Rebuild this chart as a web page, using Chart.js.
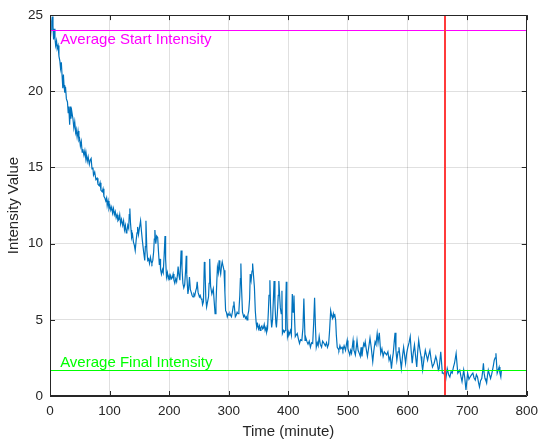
<!DOCTYPE html>
<html>
<head>
<meta charset="utf-8">
<script src="https://cdn.jsdelivr.net/npm/chart.js@4/dist/chart.umd.min.js"></script>
<style>
html,body{margin:0;padding:0;background:#fff;}
#wrap{width:545px;height:441px;position:relative;}
</style>
</head>
<body>
<div id="wrap"><canvas id="c" width="545" height="441"></canvas></div>
<script>
// ---- data ----
const timeMin = [0,1.7,3,3.8,5,6,7,8.3,9.5,11,12,13.5,15,16.5,17.7,19,20.3,21.5,22.5,23.5,24.8,26,27.5,29.3,30.5,31.5,33,34,35,36.5,38.5,40,41.5,43,44,45.5,47,48.5,49.6,51,52.5,54,55,57,58.5,60,60.7,62.5,64,66,67.5,69,70.5,72,73,75,77,79,80.5,82.6,84,85.5,87.6,89,90.5,92,93.5,95,96,97.5,99,100.5,102,103.5,105,106.5,108,109.5,111,112.5,114,115.7,117,118.5,120,122,123.5,125,126.5,128,129,130.5,132,133,134,135,136,137,138.5,140,141.5,143,144.5,146,147,148.5,150,152,153.5,155,157,159,160,161,162.5,164,165.5,167,168.5,170,171,172.5,174,175,176,177.5,179,180.7,182,183.5,184.6,185.5,187,188.5,190,191.5,193,194,195.5,197,198.5,200,201,202.5,204,205.5,206.6,208,209.4,211,212.5,214,215,216.5,218,219,220,221.5,223,224.5,226,227.5,228.6,229.5,231.4,232.5,234,235.5,237,238.5,240,241.5,243,244.5,246,247,248.5,250.7,252,253.5,255,256,257.5,259,260,261.5,262.8,264,266,267,268,269.5,271.6,273,274,275.5,277,278.5,280,281,282.5,283.8,285,286.4,288,289,290.5,292,293.5,294.7,296,297.5,299,300.5,302,303,304.5,306,307.5,308.6,310,311,312.5,314,315.5,317,318.5,319.5,320.3,321.5,323,325,326.5,328,329.5,330.6,332,333.5,335,336,337.5,339,340,341.5,343,344.5,346,347,348.5,350,351.5,352.6,354,355.5,357,358,359.5,361,362.5,363.6,365,366.5,367.5,369,370,371,372,373.5,375,376,377.5,379,380,381.5,383,384,385.5,386.5,388,389.2,390,392,393.5,394.5,395.5,396.5,397.5,398.5,400,401,402,403.5,405,406.6,408,409.4,410.5,411.6,413,414.9,416.5,418.7,420.5,422.6,424.5,426,427,428,429.5,431.4,433,435,437,439,440.8,442.5,444,445.5,446.8,448.5,450,451.7,453.5,455.7,457.5,460,462,464,465.6,467.5,469,471,472.5,474,475.5,476.5,478,479.3,480.5,482,483.5,484.8,486.5,488,490,491.5,493.5,495.9,497.5,498.7,500,501.5,503,504.5,506,507.5,508.6,510,511,512.4,514,515.2,517,519,520.7,522,523.5,525,526.5,528,529,531,532.7,534.5,537,539,541.6,543.5,545.5,547,549,550.5,552.6,555,557,559,561,563,564.8,567,569,571,573,574.5,576,577.5,579,580.5,582,584,585.6,587.5,589.6,591.5,593.4,595,596.7,598.5,600.5,602.5,604.5,606,607.8,609.5,611.6,613.5,615.4,617,618.7,620.5,622.6,624,625.3,627.5,629.8,631.5,633.6,635.5,637.5,639.5,641.8,644.6,647.4,649,651.7,653,655.7,658.4,661,664,666.6,669,671,673,674.9,677,678.8,681.5,684.3,687.6,689.5,691.4,694.2,696,698,700.8,703,705,707.5,709.6,711.5,713.6,715.5,717.4,719,720.7,722.5,724.5,726,727.3,728.5,730,731.5,732.7,734,735.5,737.5,739.3,741,742.6,744,745.5,747,748.3,750.4,752,753.7,755,756.5,757.5];
const intensity = [23.2,24.0,24.6,24.9,24.3,23.4,24.1,23.5,23.0,23.3,22.8,23.0,22.3,22.0,21.5,21.9,21.0,20.2,21.1,20.4,19.9,20.3,19.5,19.3,18.6,19.0,17.8,19.0,18.2,18.7,18.2,17.6,18.0,17.3,17.5,17.0,17.4,16.8,16.9,16.4,16.7,16.0,16.2,15.8,16.1,15.6,15.9,15.4,15.7,15.2,15.5,15.6,14.9,15.0,14.5,14.7,14.2,14.3,13.9,13.8,14.0,13.5,13.4,13.6,13.1,13.0,12.8,13.0,12.5,12.8,12.3,12.5,12.2,12.4,12.0,12.3,11.9,12.1,11.7,11.9,11.5,11.6,11.9,11.3,11.6,11.2,11.5,10.9,11.2,10.7,10.8,11.2,11.0,11.9,12.3,11.4,10.9,10.4,10.6,10.1,9.9,9.55,10.2,10.7,11.1,10.6,11.0,11.5,10.8,10.2,9.5,8.9,9.8,11.5,9.6,8.9,9.0,8.7,9.1,8.8,8.7,8.9,9.5,10.3,10.9,10.0,10.5,10.4,9.5,8.6,9.0,8.3,8.0,8.3,8.1,9.2,10.5,9.0,7.8,8.1,7.7,7.9,7.6,7.9,7.7,7.8,8.0,7.6,7.4,7.7,7.5,8.0,8.5,7.9,7.6,8.6,9.55,8.4,7.4,7.1,7.3,8.2,9.2,8.0,6.7,7.0,7.8,7.0,6.8,6.6,6.5,6.7,6.6,6.9,7.1,7.5,6.8,6.5,6.6,6.4,6.3,6.0,6.2,8.8,8.4,6.4,5.85,6.1,6.5,7.4,9.0,7.2,6.7,6.9,7.05,6.2,5.4,6.0,7.6,8.45,8.1,8.9,8.3,8.0,8.6,8.8,8.5,8.25,6.8,5.6,5.5,5.2,5.4,5.3,5.4,5.3,5.2,5.5,5.9,6.2,5.6,5.2,5.3,5.5,5.4,5.6,6.6,7.7,8.7,7.0,5.5,5.2,5.3,5.1,5.2,5.0,5.3,5.6,6.4,8.0,7.6,8.2,8.7,7.9,7.15,5.6,4.8,4.5,4.7,4.4,4.6,4.3,4.5,4.6,4.4,4.45,4.7,4.3,4.5,4.2,4.4,5.6,6.6,7.6,6.0,5.0,4.5,5.0,6.5,7.55,6.0,4.8,4.5,5.4,6.6,7.55,6.5,5.8,5.4,6.9,4.1,4.3,4.2,4.3,6.0,7.5,5.5,3.9,4.2,4.0,4.1,4.3,4.0,6.7,5.5,6.6,5.0,3.9,4.0,4.1,3.8,3.45,3.7,3.65,4.5,6.4,5.0,3.65,3.8,3.55,3.4,3.6,3.2,3.5,3.45,4.8,6.45,4.5,3.2,3.5,3.3,3.9,3.4,3.2,3.6,3.45,3.3,3.5,3.2,3.4,4.2,5.6,5.3,5.1,5.4,5.2,5.3,5.0,4.0,3.2,3.1,3.0,3.3,3.1,3.2,3.0,3.3,3.0,3.4,3.65,3.1,2.9,2.7,3.0,2.8,3.3,3.65,3.0,2.9,2.7,3.2,3.65,3.0,2.8,2.6,3.2,2.6,3.1,3.45,3.3,3.55,3.0,2.6,3.1,3.8,3.2,2.25,3.0,3.55,3.4,4.1,3.5,4.15,2.8,3.1,2.6,2.9,2.8,2.7,2.9,2.35,2.6,1.8,2.4,2.8,3.5,4.15,3.0,2.35,2.9,3.2,2.5,1.8,2.6,3.2,2.7,2.15,2.8,3.2,3.5,3.9,3.0,2.15,2.8,3.35,2.6,1.9,2.9,3.65,3.1,2.6,2.1,1.7,2.4,3.0,2.7,2.35,2.7,3.0,2.4,1.9,2.15,2.6,2.35,1.7,1.8,2.9,1.5,1.5,1.05,1.8,1.4,1.25,1.6,1.5,1.9,2.15,2.8,1.5,1.7,1.3,0.95,1.7,1.2,0.4,1.5,1.1,1.25,1.4,1.5,1.2,1.05,1.4,1.25,0.9,0.6,1.0,1.15,1.6,2.15,1.5,1.15,1.0,0.85,1.3,1.7,1.4,1.15,1.4,1.7,2.0,2.35,2.5,2.8,1.5,1.7,1.9,1.5,1.25,1.7];
const xTicks = [0,100,200,300,400,500,600,700,800];
const yTicks = [0,5,10,15,20,25];
const avgStart = 24.0;
const avgFinal = 1.7;
const cutoffTime = 663;
const startLabel = 'Average Start Intensity';
const finalLabel = 'Average Final Intensity';
const xTitle = 'Time (minute)';
const yTitle = 'Intensity Value';

const FONT = "'Liberation Sans', Arial, Helvetica, sans-serif";
const AX = '#262626';

const series = timeMin.map((t, i) => ({x: t, y: intensity[i]}));

// Reference lines drawn through the chart's own scales
const refLines = {
  id: 'refLines',
  afterDatasetsDraw(chart) {
    const {ctx, chartArea: a, scales: {x, y}} = chart;
    ctx.save();
    ctx.lineWidth = 1.2;
    const hy1 = Math.round(y.getPixelForValue(avgStart)) + 0.5;
    ctx.strokeStyle = '#ff00ff';
    ctx.beginPath(); ctx.moveTo(a.left, hy1); ctx.lineTo(a.right, hy1); ctx.stroke();
    const hy2 = Math.round(y.getPixelForValue(avgFinal)) + 0.5;
    ctx.strokeStyle = '#00ff00';
    ctx.beginPath(); ctx.moveTo(a.left, hy2); ctx.lineTo(a.right, hy2); ctx.stroke();
    const vx = Math.round(x.getPixelForValue(cutoffTime));
    ctx.strokeStyle = '#ff3b3b';
    ctx.lineWidth = 2;
    ctx.beginPath(); ctx.moveTo(vx, a.top); ctx.lineTo(vx, a.bottom); ctx.stroke();

    ctx.font = "15px " + FONT;
    ctx.textAlign = 'left';
    ctx.textBaseline = 'middle';
    ctx.fillStyle = '#ff00ff';
    ctx.fillText(startLabel, x.getPixelForValue(17), y.getPixelForValue(avgStart) + 10);
    ctx.fillStyle = '#00ff00';
    ctx.fillText(finalLabel, x.getPixelForValue(17), y.getPixelForValue(avgFinal) - 7);
    ctx.restore();
  }
};

const boxTicks = {
  id: 'boxTicks',
  afterDraw(chart) {
    const {ctx, chartArea: a, scales: {x, y}} = chart;
    ctx.save();
    ctx.strokeStyle = AX;
    ctx.lineWidth = 1;
    ctx.beginPath();
    ctx.rect(Math.round(a.left) + 0.5, Math.round(a.top) + 0.5, Math.round(a.right - a.left) - 1, Math.round(a.bottom - a.top) - 1);
    ctx.stroke();
    const L = 5;
    ctx.beginPath();
    xTicks.forEach(v => {
      const px = Math.round(x.getPixelForValue(v)) + 0.5;
      ctx.moveTo(px, a.bottom); ctx.lineTo(px, a.bottom - L);
      ctx.moveTo(px, a.top); ctx.lineTo(px, a.top + L);
    });
    yTicks.forEach(v => {
      const py = Math.round(y.getPixelForValue(v)) + 0.5;
      ctx.moveTo(a.left, py); ctx.lineTo(a.left + L, py);
      ctx.moveTo(a.right, py); ctx.lineTo(a.right - L, py);
    });
    ctx.stroke();
    ctx.restore();
  }
};

new Chart(document.getElementById('c'), {
  type: 'line',
  data: {
    datasets: [
      {data: series, borderColor: '#0072BD', borderWidth: 1.2, pointRadius: 0, tension: 0}
    ]
  },
  options: {
    responsive: false,
    animation: false,
    parsing: false,
    normalized: true,
    events: [],
    layout: {padding: {top: 14, right: 12, left: 0, bottom: 0}},
    plugins: {legend: {display: false}, tooltip: {enabled: false}},
    scales: {
      x: {
        type: 'linear', min: 0, max: 800,
        afterFit(s) { s.height = 45; },
        afterBuildTicks(s) { s.ticks = xTicks.map(v => ({value: v})); },
        grid: {color: 'rgba(38,38,38,0.14)', drawTicks: false},
        border: {color: AX},
        ticks: {font: {family: FONT, size: 13.5}, color: AX, padding: 7, maxRotation: 0},
        title: {display: true, text: xTitle, font: {family: FONT, size: 15}, color: AX, padding: {top: 0, bottom: 0}}
      },
      y: {
        type: 'linear', min: 0, max: 25,
        afterFit(s) { s.width = 50; },
        afterBuildTicks(s) { s.ticks = yTicks.map(v => ({value: v})); },
        grid: {color: 'rgba(38,38,38,0.14)', drawTicks: false},
        border: {color: AX},
        ticks: {font: {family: FONT, size: 13.5}, color: AX, padding: 7},
        title: {display: true, text: yTitle, font: {family: FONT, size: 15}, color: AX, padding: {top: 5, bottom: 0}}
      }
    }
  },
  plugins: [refLines, boxTicks]
});
</script>
</body>
</html>
